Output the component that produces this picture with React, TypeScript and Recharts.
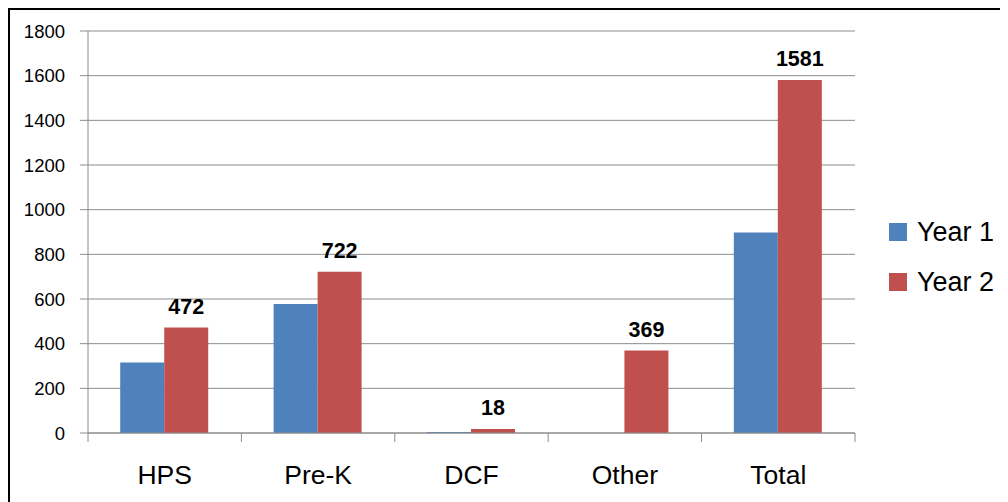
import { Bar, BarChart, CartesianGrid, LabelList, Legend, XAxis, YAxis } from "recharts";

const categories = ["HPS", "Pre-K", "DCF", "Other", "Total"];
const year1 = [316, 578, 5, 0, 898];
const year2 = [472, 722, 18, 369, 1581];
const yTicks = [0, 200, 400, 600, 800, 1000, 1200, 1400, 1600, 1800];

const data = categories.map((name, i) => ({ name, year1: year1[i], year2: year2[i] }));

const FONT = "'Liberation Sans', Arial, sans-serif";
const GRID = "#8c8c8c";

const chartW = 998;
const chartH = 492;
const margin = { top: 21, right: 153, bottom: 0, left: 0 };
const yAxisW = 78;
const xAxisH = 69;
const plotW = chartW - margin.left - margin.right - yAxisW;
const band = plotW / categories.length;

function CategoryTick(props: any) {
  const { x, y, payload, index } = props;
  const left = x - band / 2;
  const right = x + band / 2;
  return (
    <g>
      <line x1={left} x2={left} y1={y} y2={y + 9} stroke={GRID} strokeWidth={1} />
      {index === categories.length - 1 && (
        <line x1={right} x2={right} y1={y} y2={y + 9} stroke={GRID} strokeWidth={1} />
      )}
      <text x={x} y={y + 51} textAnchor="middle" fontSize={26.5} fill="#000" fontFamily={FONT}>
        {payload.value}
      </text>
    </g>
  );
}

function LegendBox(props: any) {
  const { payload } = props;
  return (
    <div style={{ fontFamily: FONT }}>
      {(payload || []).map((item: any) => (
        <div key={item.value} style={{ display: "flex", alignItems: "center", height: 50 }}>
          <div style={{ width: 18, height: 18, background: item.color, marginRight: 10 }} />
          <span style={{ fontSize: 27, color: "#000", lineHeight: "30px" }}>{item.value}</span>
        </div>
      ))}
    </div>
  );
}

export default function App() {
  return (
    <div
      style={{
        width: 1000,
        height: 494,
        borderLeft: "2px solid #000",
        borderTop: "2px solid #000",
        background: "#fff",
      }}
    >
      <BarChart
        width={chartW}
        height={chartH}
        data={data}
        margin={margin}
        barCategoryGap="21%"
        barGap={0}
        style={{ fontFamily: FONT }}
      >
        <CartesianGrid vertical={false} stroke={GRID} strokeDasharray="" />
        <XAxis
          dataKey="name"
          height={xAxisH}
          tickLine={false}
          tickSize={0}
          tickMargin={0}
          axisLine={{ stroke: GRID }}
          tick={<CategoryTick />}
          interval={0}
        />
        <YAxis
          width={yAxisW}
          domain={[0, 1800]}
          ticks={yTicks}
          interval={0}
          tickSize={8}
          tickMargin={15}
          tickLine={{ stroke: GRID }}
          axisLine={{ stroke: GRID }}
          tick={{ fill: "#000", fontSize: 18.5, fontFamily: FONT }}
        />
        <Legend
          layout="horizontal"
          verticalAlign="middle"
          align="center"
          content={<LegendBox />}
          wrapperStyle={{ left: 879, top: 197, width: 130 }}
        />
        <Bar dataKey="year1" name="Year 1" fill="#4F81BD" isAnimationActive={false} />
        <Bar dataKey="year2" name="Year 2" fill="#C0504D" isAnimationActive={false}>
          <LabelList
            dataKey="year2"
            position="top"
            offset={14}
            fill="#000"
            fontSize={21.5}
            fontWeight="bold"
            fontFamily={FONT}
          />
        </Bar>
      </BarChart>
    </div>
  );
}
